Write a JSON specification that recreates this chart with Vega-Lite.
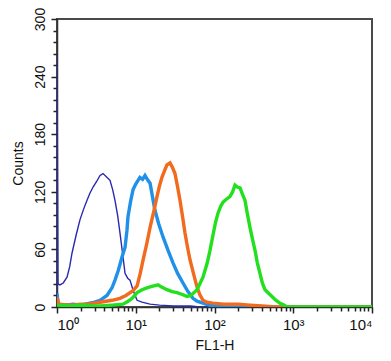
{
  "$schema": "https://vega.github.io/schema/vega-lite/v6.json",
  "width": 315,
  "height": 288,
  "autosize": {"type": "none"},
  "padding": {"left": 57, "top": 19, "right": 19, "bottom": 54},
  "background": "white",
  "config": {
    "font": "Liberation Sans",
    "view": {"stroke": "#4a4a4a", "strokeWidth": 2},
    "axis": {"grid": false, "domainColor": "#333", "domainWidth": 1.5, "tickColor": "#222", "tickWidth": 1.5, "labelColor": "#111", "titleColor": "#111", "titleFontWeight": "normal", "titleFontSize": 14, "labelFontSize": 14}
  },
  "data": {"values": [
    {"s": "a", "x": 1, "y": 0}, {"s": "a", "x": 1, "y": 260}, {"s": "a", "x": 1.03, "y": 24}, {"s": "a", "x": 1.09, "y": 23}, {"s": "a", "x": 1.2, "y": 25}, {"s": "a", "x": 1.34, "y": 31}, {"s": "a", "x": 1.45, "y": 42}, {"s": "a", "x": 1.55, "y": 56}, {"s": "a", "x": 1.75, "y": 75}, {"s": "a", "x": 1.96, "y": 91}, {"s": "a", "x": 2.2, "y": 103}, {"s": "a", "x": 2.4, "y": 111}, {"s": "a", "x": 2.6, "y": 118}, {"s": "a", "x": 2.87, "y": 125}, {"s": "a", "x": 3.2, "y": 131}, {"s": "a", "x": 3.52, "y": 137}, {"s": "a", "x": 3.84, "y": 139}, {"s": "a", "x": 4.2, "y": 136}, {"s": "a", "x": 4.71, "y": 132}, {"s": "a", "x": 5.1, "y": 122}, {"s": "a", "x": 5.45, "y": 111}, {"s": "a", "x": 5.9, "y": 95}, {"s": "a", "x": 6.31, "y": 77}, {"s": "a", "x": 6.8, "y": 56}, {"s": "a", "x": 7.31, "y": 35}, {"s": "a", "x": 7.9, "y": 30}, {"s": "a", "x": 8.45, "y": 28}, {"s": "a", "x": 9.3, "y": 17}, {"s": "a", "x": 10.4, "y": 7}, {"s": "a", "x": 12, "y": 5}, {"s": "a", "x": 15.2, "y": 3}, {"s": "a", "x": 20, "y": 2}, {"s": "a", "x": 30, "y": 1}, {"s": "a", "x": 50, "y": 1}, {"s": "a", "x": 65, "y": 0}, {"s": "a", "x": 10000, "y": 0},
    {"s": "b", "x": 1, "y": 14}, {"s": "b", "x": 1.04, "y": 3}, {"s": "b", "x": 1.3, "y": 2}, {"s": "b", "x": 1.6, "y": 3}, {"s": "b", "x": 2, "y": 2}, {"s": "b", "x": 2.62, "y": 4}, {"s": "b", "x": 3, "y": 5}, {"s": "b", "x": 3.52, "y": 7}, {"s": "b", "x": 4.31, "y": 12}, {"s": "b", "x": 5, "y": 20}, {"s": "b", "x": 5.45, "y": 28}, {"s": "b", "x": 6, "y": 38}, {"s": "b", "x": 6.69, "y": 52}, {"s": "b", "x": 7.31, "y": 62}, {"s": "b", "x": 7.74, "y": 80}, {"s": "b", "x": 7.97, "y": 94}, {"s": "b", "x": 8.6, "y": 110}, {"s": "b", "x": 9.23, "y": 122}, {"s": "b", "x": 10, "y": 128}, {"s": "b", "x": 11.3, "y": 135}, {"s": "b", "x": 12.2, "y": 133}, {"s": "b", "x": 13.1, "y": 137}, {"s": "b", "x": 14, "y": 133}, {"s": "b", "x": 15.2, "y": 129}, {"s": "b", "x": 16.3, "y": 115}, {"s": "b", "x": 17.5, "y": 101}, {"s": "b", "x": 19.5, "y": 87}, {"s": "b", "x": 22.2, "y": 73}, {"s": "b", "x": 26, "y": 58}, {"s": "b", "x": 29.7, "y": 46}, {"s": "b", "x": 34, "y": 35}, {"s": "b", "x": 39.8, "y": 25}, {"s": "b", "x": 46, "y": 16}, {"s": "b", "x": 53.3, "y": 9}, {"s": "b", "x": 60, "y": 6}, {"s": "b", "x": 71.4, "y": 4}, {"s": "b", "x": 85, "y": 2}, {"s": "b", "x": 100, "y": 1}, {"s": "b", "x": 130, "y": 0}, {"s": "b", "x": 10000, "y": 0},
    {"s": "c", "x": 1, "y": 10}, {"s": "c", "x": 1.05, "y": 3}, {"s": "c", "x": 1.5, "y": 2}, {"s": "c", "x": 2, "y": 3}, {"s": "c", "x": 2.5, "y": 3}, {"s": "c", "x": 3.52, "y": 5}, {"s": "c", "x": 5, "y": 7}, {"s": "c", "x": 6.31, "y": 9}, {"s": "c", "x": 7.5, "y": 12}, {"s": "c", "x": 9.23, "y": 17}, {"s": "c", "x": 10.4, "y": 22}, {"s": "c", "x": 11.4, "y": 35}, {"s": "c", "x": 12.4, "y": 49}, {"s": "c", "x": 13.8, "y": 66}, {"s": "c", "x": 15.2, "y": 83}, {"s": "c", "x": 17, "y": 100}, {"s": "c", "x": 18.6, "y": 115}, {"s": "c", "x": 20, "y": 126}, {"s": "c", "x": 21.5, "y": 135}, {"s": "c", "x": 23.5, "y": 143}, {"s": "c", "x": 24.9, "y": 148}, {"s": "c", "x": 27.2, "y": 150}, {"s": "c", "x": 29, "y": 146}, {"s": "c", "x": 31.5, "y": 139}, {"s": "c", "x": 34, "y": 125}, {"s": "c", "x": 36.5, "y": 111}, {"s": "c", "x": 39.5, "y": 93}, {"s": "c", "x": 42.2, "y": 77}, {"s": "c", "x": 45.5, "y": 62}, {"s": "c", "x": 48.9, "y": 49}, {"s": "c", "x": 54, "y": 35}, {"s": "c", "x": 59.9, "y": 21}, {"s": "c", "x": 65, "y": 13}, {"s": "c", "x": 71.4, "y": 7}, {"s": "c", "x": 80, "y": 5}, {"s": "c", "x": 95, "y": 4}, {"s": "c", "x": 130, "y": 3}, {"s": "c", "x": 200, "y": 3}, {"s": "c", "x": 282, "y": 2}, {"s": "c", "x": 400, "y": 1}, {"s": "c", "x": 600, "y": 0}, {"s": "c", "x": 10000, "y": 0},
    {"s": "d", "x": 1, "y": 2}, {"s": "d", "x": 1.5, "y": 1}, {"s": "d", "x": 2, "y": 2}, {"s": "d", "x": 3, "y": 1}, {"s": "d", "x": 3.52, "y": 1}, {"s": "d", "x": 5, "y": 2}, {"s": "d", "x": 6.89, "y": 3}, {"s": "d", "x": 8, "y": 6}, {"s": "d", "x": 9, "y": 9}, {"s": "d", "x": 10.4, "y": 15}, {"s": "d", "x": 12, "y": 18}, {"s": "d", "x": 13.9, "y": 20}, {"s": "d", "x": 15.2, "y": 21}, {"s": "d", "x": 17, "y": 22}, {"s": "d", "x": 19.2, "y": 23}, {"s": "d", "x": 21, "y": 21}, {"s": "d", "x": 24.9, "y": 18}, {"s": "d", "x": 29, "y": 16}, {"s": "d", "x": 33.4, "y": 15}, {"s": "d", "x": 39, "y": 13}, {"s": "d", "x": 44.8, "y": 11}, {"s": "d", "x": 50, "y": 12}, {"s": "d", "x": 55, "y": 15}, {"s": "d", "x": 59.9, "y": 18}, {"s": "d", "x": 65, "y": 24}, {"s": "d", "x": 71.4, "y": 31}, {"s": "d", "x": 80.3, "y": 45}, {"s": "d", "x": 87.7, "y": 59}, {"s": "d", "x": 95.7, "y": 75}, {"s": "d", "x": 103, "y": 88}, {"s": "d", "x": 111, "y": 98}, {"s": "d", "x": 120, "y": 105}, {"s": "d", "x": 128, "y": 109}, {"s": "d", "x": 140, "y": 112}, {"s": "d", "x": 157, "y": 115}, {"s": "d", "x": 170, "y": 120}, {"s": "d", "x": 182, "y": 127}, {"s": "d", "x": 195, "y": 125}, {"s": "d", "x": 211, "y": 124}, {"s": "d", "x": 225, "y": 118}, {"s": "d", "x": 244, "y": 111}, {"s": "d", "x": 260, "y": 98}, {"s": "d", "x": 282, "y": 83}, {"s": "d", "x": 305, "y": 70}, {"s": "d", "x": 327, "y": 59}, {"s": "d", "x": 350, "y": 46}, {"s": "d", "x": 378, "y": 35}, {"s": "d", "x": 405, "y": 25}, {"s": "d", "x": 438, "y": 18}, {"s": "d", "x": 490, "y": 14}, {"s": "d", "x": 537, "y": 11}, {"s": "d", "x": 600, "y": 7}, {"s": "d", "x": 679, "y": 4}, {"s": "d", "x": 760, "y": 2}, {"s": "d", "x": 833, "y": 0}, {"s": "d", "x": 10000, "y": 0}
  ]},
  "mark": {"type": "line", "clip": true},
  "encoding": {
    "x": {
      "field": "x", "type": "quantitative",
      "scale": {"type": "log", "domain": [1, 10000], "nice": false},
      "axis": {
        "title": "FL1-H",
        "values": [1,2,3,4,5,6,7,8,9,10,20,30,40,50,60,70,80,90,100,200,300,400,500,600,700,800,900,1000,2000,3000,4000,5000,6000,7000,8000,9000,10000],
        "labelExpr": "indexof([1,10,100,1000,10000], datum.value) >= 0 ? '10' + ['⁰','¹','²','³','⁴'][round(log(datum.value)/LN10)] : ''",
        "tickSize": {"condition": {"test": "indexof([1,10,100,1000,10000], datum.value) >= 0", "value": 6}, "value": 4},
        "labelPadding": 4,
        "labelFontSize": 15,
        "titlePadding": 6,
        "labelOverlap": false
      }
    },
    "y": {
      "field": "y", "type": "quantitative",
      "scale": {"domain": [0, 300], "nice": false},
      "axis": {
        "title": "Counts",
        "values": [0,12,24,36,48,60,72,84,96,108,120,132,144,156,168,180,192,204,216,228,240,252,264,276,288,300],
        "labelExpr": "datum.value % 60 === 0 ? datum.label : ''",
        "tickSize": {"condition": {"test": "datum.value % 60 === 0", "value": 6}, "value": 4},
        "labelAngle": 270,
        "labelPadding": 4,
        "titlePadding": 8,
        "labelOverlap": false
      }
    },
    "color": {
      "field": "s", "type": "nominal", "legend": null,
      "scale": {"domain": ["a", "b", "c", "d"], "range": ["#2a2ab0", "#2090e8", "#f26a1e", "#22e01e"]}
    },
    "strokeWidth": {
      "field": "s", "type": "nominal", "legend": null,
      "scale": {"type": "ordinal", "domain": ["a", "b", "c", "d"], "range": [1.4, 3.4, 3.4, 3.4]}
    }
  }
}
